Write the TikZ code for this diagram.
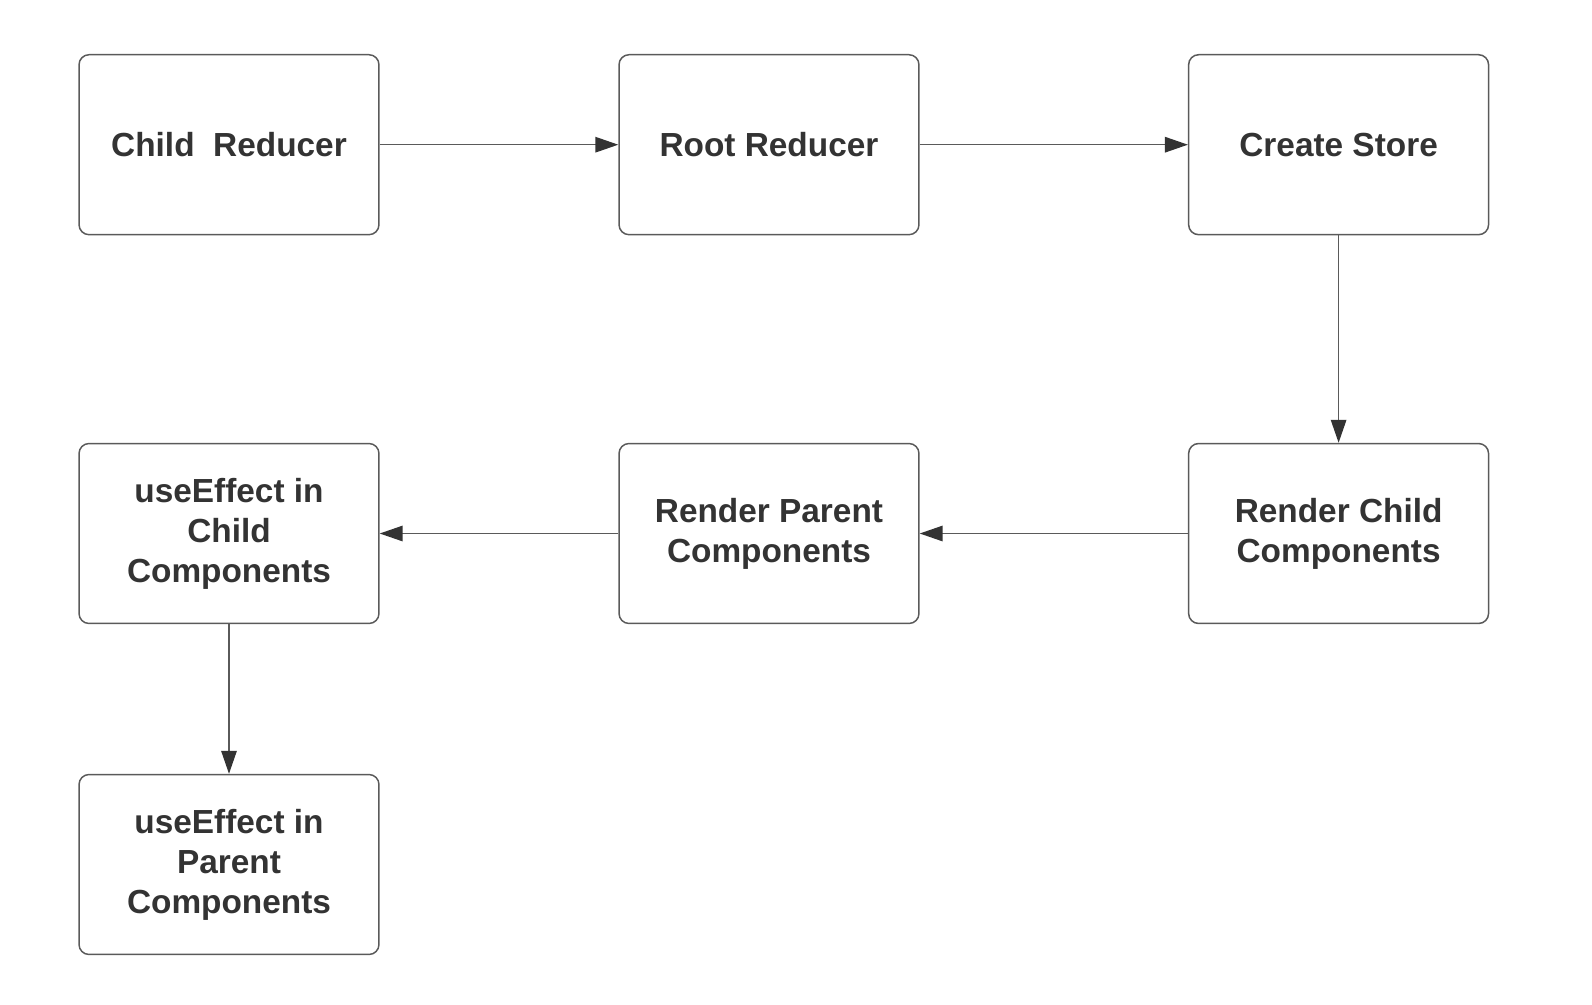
\documentclass[tikz,border=0pt]{standalone}
\usepackage{fontspec}
\setmainfont{Liberation Sans}
\usetikzlibrary{arrows.meta,positioning}
\definecolor{boxline}{HTML}{5A5A5A}
\definecolor{txt}{HTML}{333333}

\begin{document}
\begin{tikzpicture}[x=0.02cm, y=-0.02cm,
    stage/.style={draw=boxline, line width=0.85pt, rounded corners=0.2cm,
      minimum width=6cm, minimum height=3.6cm, align=center, text=txt,
      font=\fontsize{19}{22.7}\selectfont\bfseries},
    flow/.style={draw=boxline, line width=0.85pt,
      -{Triangle[length=0.46cm, width=0.31cm, color=txt]}}]
    \useasboundingbox (0,0) rectangle (1592,1004);

    % Top row
    \node[stage] (child) at (229,144.7) {Child~ Reducer};
    \node[stage] (root) at (769,144.7) {Root Reducer};
    \node[stage] (store) at (1338.6,144.7) {Create Store};

    % Middle row, runs right to left
    \node[stage] (rchild) at (1338.6,533.5) {Render Child\\Components};
    \node[stage] (rparent) at (769,533.5) {Render Parent\\Components};
    \node[stage] (echild) at (229,533.5) {useEffect in\\Child\\Components};

    % Last one
    \node[stage] (eparent) at (229,864.5) {useEffect in\\Parent\\Components};

    % Connectors
    \draw[flow] (child) -- (root);
    \draw[flow] (root) -- (store);
    \draw[flow] (store) -- (rchild);
    \draw[flow] (rchild) -- (rparent);
    \draw[flow] (rparent) -- (echild);
    \draw[flow] (echild) -- (eparent);
\end{tikzpicture}
\end{document}
